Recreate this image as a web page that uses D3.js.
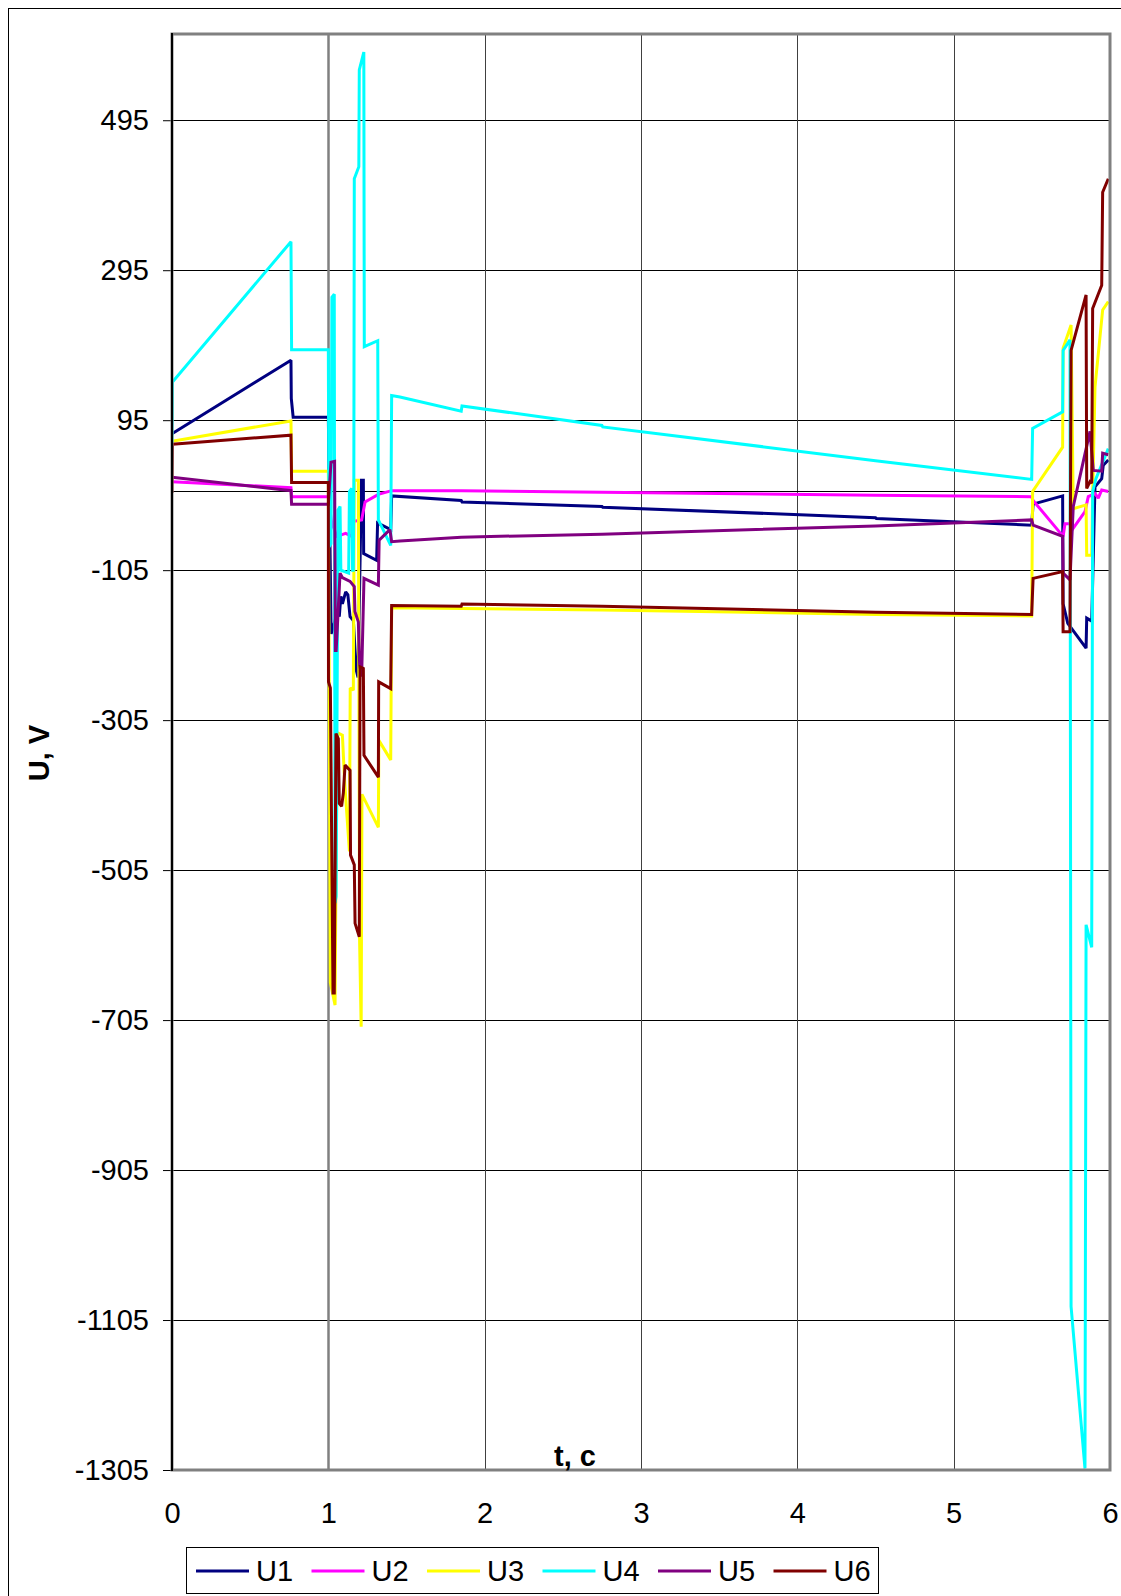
<!DOCTYPE html>
<html>
<head>
<meta charset="utf-8">
<script src="https://cdn.jsdelivr.net/npm/d3@7"></script>
<style>
  html, body { margin: 0; padding: 0; background: #fff; }
  svg { display: block; font-family: "Liberation Sans", Arial, sans-serif; }
</style>
</head>
<body>
<svg id="chart" width="1121" height="1596"></svg>
<script>
// Tick values of both axes
const yTicks = [495, 295, 95, -105, -305, -505, -705, -905, -1105, -1305];
const xTicks = [0, 1, 2, 3, 4, 5, 6];

// Series names and colours
const seriesNames = ["U1", "U2", "U3", "U4", "U5", "U6"];
const seriesColors = ["#000080", "#FF00FF", "#FFFF00", "#00FFFF", "#800080", "#800000"];

// Voltage traces: [t (s), U (V)]
const U1 = [
  [0, 77], [0.761, 175], [0.763, 124], [0.775, 99], [1.0, 99], [1.018, -190], [1.025, -185],
  [1.062, -158], [1.07, -167], [1.08, -140], [1.09, -150], [1.111, -134], [1.125, -138],
  [1.139, -167], [1.16, -172], [1.178, -238], [1.19, -248], [1.212, 15], [1.224, 15],
  [1.226, -83], [1.309, -92], [1.315, -42], [1.399, -51], [1.405, -6], [1.85, -12],
  [1.855, -14], [2.75, -20], [2.755, -21], [4.5, -35], [4.505, -36], [5.499, -45],
  [5.508, -17], [5.697, -6], [5.70, -150], [5.73, -176], [5.847, -209], [5.851, -169],
  [5.883, -173], [5.904, 6], [5.947, 17], [5.957, 35], [5.989, 42]
];
const U2 = [
  [0, 13], [0.761, 5], [0.765, -7], [1.0, -7], [1.02, -40], [1.054, -60], [1.111, -56],
  [1.15, -60], [1.155, -40], [1.213, -38], [1.235, -14], [1.32, -4], [1.405, 1], [1.85, 1],
  [2.75, -1], [4.5, -5], [5.499, -7], [5.508, -12], [5.70, -60], [5.712, -43], [5.744, -43],
  [5.755, -52], [5.84, -27], [5.861, -7], [5.904, -3], [5.925, -9], [5.947, 2], [5.989, 0]
];
const U3 = [
  [0, 67], [0.761, 94], [0.765, 27], [1.0, 27], [1.013, -655], [1.043, -685], [1.05, -480],
  [1.06, -322], [1.09, -325], [1.105, -390], [1.135, -480], [1.14, -262], [1.16, -265],
  [1.166, 15], [1.192, 15], [1.2, -600], [1.21, -714], [1.215, -404], [1.32, -448],
  [1.323, -332], [1.399, -358], [1.405, -155], [1.85, -156], [2.75, -158], [4.5, -164],
  [5.499, -166], [5.505, 0], [5.697, 59], [5.70, 191], [5.751, 222], [5.765, -23],
  [5.847, -18], [5.851, -85], [5.883, -85], [5.889, -5], [5.904, 139], [5.953, 242],
  [5.989, 253]
];
const U4 = [
  [0, 64], [0.003, 146], [0.761, 333], [0.765, 189], [1.0, 189], [1.004, -74], [1.017, -70],
  [1.023, 259], [1.038, 263], [1.043, -549], [1.05, -540], [1.062, -25], [1.075, -20],
  [1.08, -105], [1.13, -109], [1.135, 0], [1.15, 4], [1.155, -105], [1.16, -105],
  [1.163, 0], [1.166, 417], [1.195, 433], [1.198, 562], [1.227, 586], [1.23, 193],
  [1.316, 201], [1.32, -38], [1.399, -72], [1.405, 128], [1.458, 126], [1.85, 107],
  [1.855, 114], [2.75, 88], [2.755, 86], [4.5, 41], [5.499, 16], [5.505, 84], [5.697, 106],
  [5.70, 188], [5.744, 202], [5.751, -1087], [5.84, -1303], [5.847, -578], [5.883, -608],
  [5.889, 0], [5.91, 17], [5.989, 57]
];
const U5 = [
  [0, 19], [0.761, 1], [0.765, -17], [1.0, -17], [1.017, 39], [1.04, 40], [1.045, -212],
  [1.05, -212], [1.075, -109], [1.09, -115], [1.139, -120], [1.166, -127], [1.17, -160],
  [1.192, -174], [1.2, -230], [1.213, -247], [1.228, -116], [1.32, -125], [1.325, -65],
  [1.394, -51], [1.405, -67], [1.458, -66], [1.85, -61], [2.75, -57], [4.5, -46],
  [5.499, -38], [5.508, -45], [5.697, -60], [5.70, -109], [5.744, -118], [5.765, -20],
  [5.872, 80], [5.893, 28], [5.947, 27], [5.953, 51], [5.989, 49]
];
const U6 = [
  [0, -2], [0.003, 63], [0.761, 75], [0.765, 12], [1.0, 12], [1.001, -254], [1.013, -262],
  [1.03, -669], [1.038, -669], [1.049, -323], [1.064, -330], [1.07, -416], [1.085, -420],
  [1.096, -402], [1.107, -365], [1.139, -372], [1.142, -485], [1.166, -498], [1.171, -576],
  [1.198, -594], [1.203, -234], [1.224, -236], [1.228, -352], [1.32, -381], [1.322, -254],
  [1.399, -263], [1.405, -152], [1.85, -153], [1.855, -150], [2.75, -153], [4.5, -161],
  [5.499, -164], [5.508, -116], [5.697, -107], [5.70, -187], [5.744, -187], [5.751, 188],
  [5.847, 262], [5.851, 4], [5.872, 13], [5.883, 11], [5.889, 244], [5.947, 275],
  [5.953, 399], [5.989, 417]
];
const seriesData = [U1, U2, U3, U4, U5, U6];

const svg = d3.select("#chart");
const W = 1121, H = 1596;
const plot = { left: 172, top: 34, right: 1110, bottom: 1470 };
const yMin = -1305, yMax = 610;
const fontFamily = "'Liberation Sans', Arial, sans-serif";

const x = d3.scaleLinear().domain([0, 6]).range([plot.left, plot.right]);
const y = d3.scaleLinear().domain([yMin, yMax]).range([plot.bottom, plot.top]);

// Outer chart border
svg.append("rect")
  .attr("x", 8.5).attr("y", 8.5).attr("width", W + 20).attr("height", H + 20)
  .attr("fill", "#fff").attr("stroke", "#000").attr("stroke-width", 1);

// Left ticks and labels (plain hyphen for negatives)
const yAxis = d3.axisLeft(y)
  .tickValues(yTicks)
  .tickSize(9)
  .tickPadding(14)
  .tickFormat(d => String(d));
const gy = svg.append("g").attr("transform", `translate(${plot.left},0)`).call(yAxis);
gy.select(".domain").remove();
gy.selectAll(".tick line").attr("stroke", "#000").attr("stroke-width", 1);
gy.selectAll(".tick text")
  .attr("font-size", 29).attr("fill", "#000")
  .attr("font-family", fontFamily);

// Horizontal gridlines
const grid = svg.append("g");
grid.selectAll("line.h").data(yTicks).join("line")
  .attr("class", "h")
  .attr("x1", plot.left).attr("x2", plot.right)
  .attr("y1", d => Math.round(y(d)) + 0.5).attr("y2", d => Math.round(y(d)) + 0.5)
  .attr("stroke", "#000").attr("stroke-width", 1);

// Vertical gridlines
grid.selectAll("line.v").data(xTicks.filter(d => d > 0 && d < 6)).join("line")
  .attr("class", "v")
  .attr("x1", d => Math.round(x(d)) + 0.5).attr("x2", d => Math.round(x(d)) + 0.5)
  .attr("y1", plot.top).attr("y2", plot.bottom)
  .attr("stroke", d => d === 1 ? "#808080" : "#404040")
  .attr("stroke-width", d => d === 1 ? 2.5 : 1);

// Zero line of the voltage axis
grid.append("line")
  .attr("x1", plot.left).attr("x2", plot.right)
  .attr("y1", Math.round(y(0)) + 0.5).attr("y2", Math.round(y(0)) + 0.5)
  .attr("stroke", "#000").attr("stroke-width", 1.2);

// X tick labels below the plot
const xAxis = d3.axisBottom(x).tickValues(xTicks).tickSize(0).tickPadding(32)
  .tickFormat(d => String(d));
const gx = svg.append("g").attr("transform", `translate(0,${plot.bottom})`).call(xAxis);
gx.select(".domain").remove();
gx.selectAll(".tick text")
  .attr("font-size", 29).attr("fill", "#000")
  .attr("font-family", fontFamily);

// Series lines
svg.append("clipPath").attr("id", "plotClip")
  .append("rect")
  .attr("x", plot.left).attr("y", plot.top)
  .attr("width", plot.right - plot.left).attr("height", plot.bottom - plot.top);

const line = d3.line().x(d => x(d[0])).y(d => y(d[1]));
const lines = svg.append("g").attr("clip-path", "url(#plotClip)");
seriesData.forEach((s, i) => {
  lines.append("path")
    .datum(s)
    .attr("d", line)
    .attr("fill", "none")
    .attr("stroke", seriesColors[i])
    .attr("stroke-width", 3)
    .attr("stroke-linejoin", "miter")
    .attr("stroke-miterlimit", 2);
});

// Plot area frame
svg.append("rect")
  .attr("x", plot.left).attr("y", plot.top)
  .attr("width", plot.right - plot.left).attr("height", plot.bottom - plot.top)
  .attr("fill", "none").attr("stroke", "#808080").attr("stroke-width", 3);
svg.append("line")
  .attr("x1", plot.left).attr("x2", plot.left)
  .attr("y1", plot.top - 1).attr("y2", plot.bottom + 1)
  .attr("stroke", "#000").attr("stroke-width", 2);

// Axis titles
svg.append("text")
  .attr("x", 575).attr("y", plot.bottom - 4)
  .attr("text-anchor", "middle")
  .attr("font-size", 29).attr("font-weight", "bold")
  .text("t, c");
svg.append("text")
  .attr("transform", `translate(49,753) rotate(-90)`)
  .attr("text-anchor", "middle")
  .attr("font-size", 29).attr("font-weight", "bold")
  .text("U, V");

// Legend
const legend = svg.append("g");
legend.append("rect")
  .attr("x", 186.5).attr("y", 1547.5).attr("width", 692).attr("height", 46)
  .attr("fill", "#fff").attr("stroke", "#000").attr("stroke-width", 1);
const item = legend.selectAll("g.item").data(seriesNames).join("g")
  .attr("class", "item")
  .attr("transform", (d, i) => `translate(${196 + i * 115.5},1571)`);
item.append("line")
  .attr("x1", 0).attr("x2", 53).attr("y1", 0).attr("y2", 0)
  .attr("stroke", (d, i) => seriesColors[i]).attr("stroke-width", 3);
item.append("text")
  .attr("x", 60).attr("y", 10)
  .attr("font-size", 29)
  .text(d => d);
</script>
</body>
</html>
